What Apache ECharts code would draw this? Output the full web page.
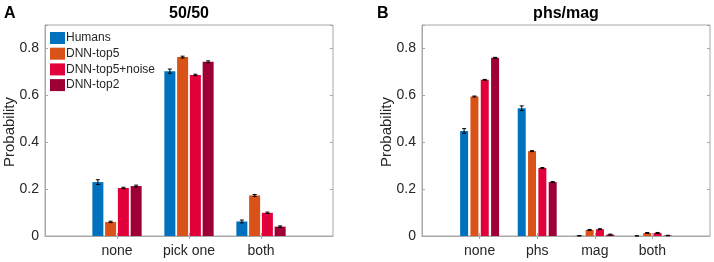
<!DOCTYPE html>
<html><head><meta charset="utf-8">
<script src="https://cdn.jsdelivr.net/npm/echarts@6/dist/echarts.min.js"></script>
<style>html,body{margin:0;padding:0;background:#fff}#c{width:714px;height:262px}</style>
</head><body><div id="c"></div>
<script>
// ---- data ----
const seriesNames = ['Humans', 'DNN-top5', 'DNN-top5+noise', 'DNN-top2'];
const colors = ['#0072BD', '#D95319', '#E2003A', '#9E0035'];

const catsA = ['none', 'pick one', 'both'];
const humansA = [0.230, 0.703, 0.062];
const top5A   = [0.060, 0.763, 0.173];
const noiseA  = [0.205, 0.687, 0.099];
const top2A   = [0.213, 0.743, 0.040];
const errHumansA = [0.010, 0.009, 0.006];
const errTop5A   = [0.003, 0.004, 0.004];
const errNoiseA  = [0.003, 0.003, 0.003];
const errTop2A   = [0.004, 0.004, 0.003];

const catsB = ['none', 'phs', 'mag', 'both'];
const humansB = [0.448, 0.545, 0.001, 0.000];
const top5B   = [0.595, 0.362, 0.026, 0.013];
const noiseB  = [0.666, 0.290, 0.029, 0.013];
const top2B   = [0.760, 0.230, 0.006, 0.002];
const errHumansB = [0.010, 0.010, 0.001, 0.001];
const errTop5B   = [0.002, 0.002, 0.002, 0.002];
const errNoiseB  = [0.002, 0.002, 0.002, 0.002];
const errTop2B   = [0.002, 0.002, 0.002, 0.001];

const yTicksMax = 0.9;
const yName = 'Probability';

// ---- build ----
const FONT = 'Liberation Sans, Arial, Helvetica, sans-serif';
const TXT = '#262626';
const AX = '#a8a8a8';

function pad(arr) { return [null].concat(arr, [null]); }
function padCats(arr) { return [''].concat(arr, ['']); }

const panels = [
  { cats: catsA, vals: [humansA, top5A, noiseA, top2A], errs: [errHumansA, errTop5A, errNoiseA, errTop2A],
    grid: { left: 45, right: 381, top: 25, bottom: 26 }, title: '50/50', letter: 'A', letterX: 4, nameX: 10, barW: 11, gap: 0.16 },
  { cats: catsB, vals: [humansB, top5B, noiseB, top2B], errs: [errHumansB, errTop5B, errNoiseB, errTop2B],
    grid: { left: 422, right: 4, top: 25, bottom: 26 }, title: 'phs/mag', letter: 'B', letterX: 377, nameX: 387, barW: 8, gap: 0.29 }
];

const option = {
  animation: false,
  textStyle: { fontFamily: FONT },
  grid: [], xAxis: [], yAxis: [], series: [], title: [], graphic: [],
  legend: {
    data: seriesNames, orient: 'vertical', left: 50, top: 32, padding: 0,
    itemWidth: 15, itemHeight: 12, itemGap: 3.7, icon: 'rect',
    textStyle: { fontSize: 12, lineHeight: 12, color: TXT, fontFamily: FONT, padding: [0,0,0,-4] }
  }
};

panels.forEach((p, pi) => {
  option.grid.push(Object.assign({ show: true, borderColor: AX, borderWidth: 1, backgroundColor: '#fff' }, p.grid));
  const cats = padCats(p.cats);
  const tickInt = (idx) => idx > 0 && idx < cats.length - 1;
  option.xAxis.push({
    type: 'category', gridIndex: pi, data: cats, boundaryGap: false, position: 'bottom',
    axisLine: { lineStyle: { color: AX } },
    axisTick: { inside: true, length: 3, interval: (i) => tickInt(i), lineStyle: { color: AX } },
    axisLabel: { color: TXT, fontSize: 14, margin: 8, interval: 0, fontFamily: FONT }
  });
  option.xAxis.push({
    type: 'category', gridIndex: pi, data: cats, boundaryGap: false, position: 'top',
    axisLine: { show: false },
    axisTick: { inside: true, length: 3, interval: (i) => tickInt(i), lineStyle: { color: AX } },
    axisLabel: { show: false }
  });
  option.yAxis.push({
    type: 'value', gridIndex: pi, min: 0, max: yTicksMax, interval: 0.2, position: 'left',
    axisLine: { show: true, lineStyle: { color: AX } },
    axisTick: { show: true, inside: true, length: 3, lineStyle: { color: AX } },
    splitLine: { show: false },
    axisLabel: { color: TXT, fontSize: 14, margin: 6, fontFamily: FONT,
      formatter: v => v > 0.85 ? '' : (v === 0 ? '0' : String(+v.toFixed(1))) }
  });
  option.yAxis.push({
    type: 'value', gridIndex: pi, min: 0, max: yTicksMax, interval: 0.2, position: 'right',
    axisLine: { show: false },
    axisTick: { show: true, inside: true, length: 3, lineStyle: { color: AX } },
    splitLine: { show: false }, axisLabel: { show: false }
  });
  const xi = pi * 2, yi = pi * 2;
  seriesNames.forEach((name, si) => {
    option.series.push({
      type: 'bar', name, xAxisIndex: xi, yAxisIndex: yi, data: pad(p.vals[si]),
      barWidth: p.barW, barGap: (p.gap * 100) + '%',
      itemStyle: { color: colors[si] }, z: 2
    });
  });
  const errData = [];
  seriesNames.forEach((name, si) => {
    p.vals[si].forEach((v, ci) => errData.push([ci + 1, v, p.errs[si][ci], si]));
  });
  const barW = p.barW, gapPx = p.barW * p.gap;
  option.series.push({
    type: 'custom', xAxisIndex: xi, yAxisIndex: yi, data: errData, z: 5, silent: true,
    renderItem: (params, api) => {
      const ci = api.value(0), v = api.value(1), e = api.value(2), si = api.value(3);
      const total = 4 * barW + 3 * gapPx;
      const off = -total / 2 + barW / 2 + si * (barW + gapPx);
      const top = api.coord([ci, v + e]);
      const bot = api.coord([ci, Math.max(0, v - e)]);
      const x = top[0] + off;
      const cw = 2;
      const st = { stroke: '#000', lineWidth: 1 };
      return { type: 'group', children: [
        { type: 'line', shape: { x1: x, y1: top[1], x2: x, y2: bot[1] }, style: st },
        { type: 'line', shape: { x1: x - cw, y1: top[1], x2: x + cw, y2: top[1] }, style: st },
        { type: 'line', shape: { x1: x - cw, y1: bot[1], x2: x + cw, y2: bot[1] }, style: st }
      ]};
    }
  });
  const cx = p.grid.left + (714 - p.grid.left - p.grid.right) / 2;
  option.graphic.push({ type: 'text', left: p.letterX, top: 6,
    style: { text: p.letter, fontSize: 16, fontWeight: 'bold', fill: '#000', fontFamily: FONT } });
  option.graphic.push({ type: 'text', x: cx, y: 14,
    style: { text: p.title, fontSize: 16, fontWeight: 'bold', fill: '#000', fontFamily: FONT, align: 'center', verticalAlign: 'middle' } });
  option.graphic.push({ type: 'text', x: p.nameX, y: 132, rotation: Math.PI / 2,
    style: { text: yName, fontSize: 15, fill: TXT, fontFamily: FONT, align: 'center', verticalAlign: 'middle' } });
});

const chart = echarts.init(document.getElementById('c'), null, { renderer: 'canvas' });
chart.setOption(option);
</script>
</body></html>
